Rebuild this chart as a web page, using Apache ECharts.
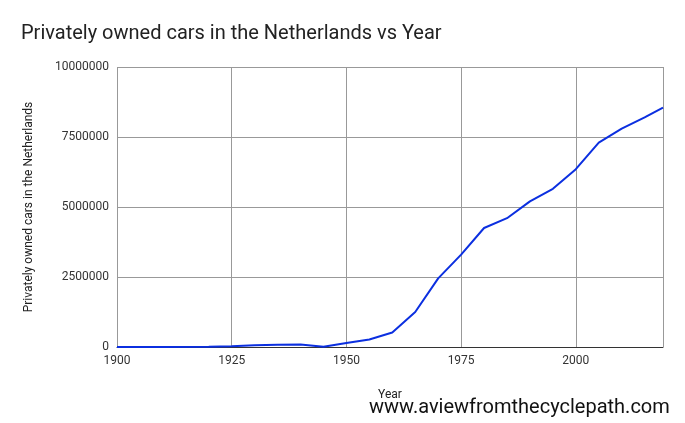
<!DOCTYPE html>
<html>
<head>
<meta charset="UTF-8">
<script src="https://cdn.jsdelivr.net/npm/echarts@6/dist/echarts.min.js"></script>
<style>body{margin:0;background:#fff}#c{width:685px;height:423px}</style>
</head>
<body>
<div id="c"></div>
<script>
var years = [1900, 1910, 1920, 1925, 1930, 1935, 1940, 1945, 1950, 1955, 1960, 1965, 1970, 1975, 1980, 1985, 1990, 1995, 2000, 2005, 2010, 2015, 2019];
var cars = [0, 2000, 10000, 25000, 60000, 80000, 90000, 10000, 140000, 270000, 520000, 1250000, 2450000, 3300000, 4250000, 4600000, 5200000, 5650000, 6350000, 7300000, 7800000, 8200000, 8550000];
var yTicks = [0, 2500000, 5000000, 7500000, 10000000];

var data = [];
for (var i = 0; i < years.length; i++) data.push([years[i], cars[i]]);

var chart = echarts.init(document.getElementById('c'));
chart.setOption({
	title: {
		text: 'Privately owned cars in the Netherlands vs Year',
		left: 16, top: 19,
		textStyle: {fontFamily: 'Roboto', fontSize: 20, fontWeight: 'normal', color: '#222'}
	},
	grid: {left: 117, right: 22, top: 67, bottom: 76},
	xAxis: {
		type: 'value', min: 1900, max: 2019, interval: 25,
		name: 'Year', nameLocation: 'middle', nameGap: 42,
		nameTextStyle: {fontFamily: 'Roboto', fontSize: 12, color: '#222'},
		axisLine: {lineStyle: {color: '#333'}},
		axisTick: {show: false},
		axisLabel: {fontFamily: 'Roboto', fontSize: 12, color: '#333', showMaxLabel: false,
			formatter: function (v) { return String(v); }},
		splitLine: {show: true, lineStyle: {color: '#999'}}
	},
	yAxis: {
		type: 'value', min: yTicks[0], max: yTicks[yTicks.length - 1], interval: 2500000,
		name: 'Privately owned cars in the Netherlands', nameLocation: 'middle', nameGap: 82,
		nameTextStyle: {fontFamily: 'Roboto', fontSize: 12, color: '#222'},
		axisLine: {show: false},
		axisTick: {show: false},
		axisLabel: {fontFamily: 'Roboto', fontSize: 12, color: '#333',
			formatter: function (v) { return String(v); }},
		splitLine: {lineStyle: {color: '#999'}}
	},
	series: [{
		type: 'line', data: data, symbol: 'none',
		lineStyle: {color: '#0b2fe0', width: 2}
	}],
	graphic: [{
		type: 'text', left: 369, bottom: 5,
		style: {text: 'www.aviewfromthecyclepath.com', font: '20px Roboto', fill: '#111'}
	}]
});
</script>
</body>
</html>
